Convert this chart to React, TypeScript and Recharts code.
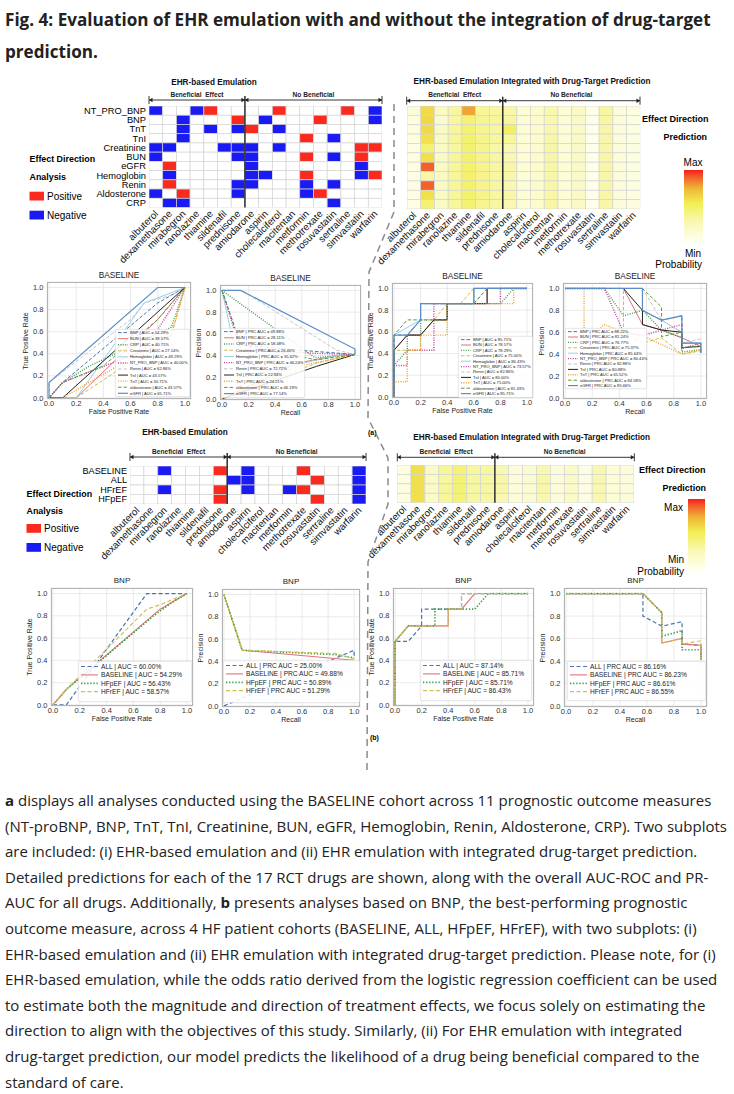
import React from "react"
import { ScatterChart, Scatter, LineChart, Line, XAxis, YAxis, CartesianGrid } from "recharts"

const FONT = "'Liberation Sans', Arial, Helvetica, sans-serif"
const TEXT_FONT = "'Open Sans', 'Noto Sans', sans-serif"

const drugs = [
  "albuterol", "dexamethasone", "mirabegron", "ranolazine", "thiamine", "sildenafil", "prednisone",
  "amiodarone", "aspirin", "cholecalciferol", "macitentan", "metformin", "methotrexate",
  "rosuvastatin", "sertraline", "simvastatin", "warfarin",
]
const beneficialCount = 7
const outcomes = ["NT_PRO_BNP", "BNP", "TnT", "TnI", "Creatinine", "BUN", "eGFR", "Hemoglobin", "Renin", "Aldosterone", "CRP"]
const cohorts = ["BASELINE", "ALL", "HFrEF", "HFpEF"]
const unitTicks = [0, 0.2, 0.4, 0.6, 0.8, 1.0]

// 1 = positive, -1 = negative, 0 = nothing found
const effectA = [
  [-1, 0, 0, -1, 1, 0, 0, 0, 0, 1, 0, 0, 0, 0, 1, 0, -1],
  [0, 0, -1, 0, 0, 0, 1, 0, -1, 0, 0, 0, 1, 0, 0, 0, -1],
  [0, 0, -1, 0, -1, 0, -1, 1, 0, -1, 0, 0, 0, 0, 0, 0, 0],
  [0, 0, -1, 0, 0, 0, 0, 0, 0, 0, 0, 1, 0, -1, 0, 0, 0],
  [-1, -1, 0, 0, 0, -1, -1, -1, 0, -1, 0, 0, 0, 0, 0, 1, 1],
  [-1, 0, 0, 0, 0, 0, -1, -1, 0, 0, 0, 1, 0, -1, 0, 1, 0],
  [0, 1, 0, 0, 0, 0, 0, -1, 0, 0, 0, 0, 0, 0, 0, -1, 0],
  [0, -1, 0, 0, 0, 0, 0, -1, -1, 0, 0, 1, 0, 0, 0, -1, 1],
  [0, 1, 0, 0, 0, 0, -1, -1, 0, 0, 0, -1, 0, -1, 0, 0, 0],
  [-1, 0, 1, 0, 0, 0, -1, 0, 0, 0, 0, -1, 1, 0, 0, 0, 0],
  [0, -1, -1, 0, 0, 0, 0, 0, 0, 0, 0, 0, 0, -1, 0, 0, 0],
]
const effectB = [
  [0, 0, -1, 0, 0, 0, 1, 0, -1, 0, 0, 0, 1, 0, 0, 0, -1],
  [0, 0, 0, 0, 0, 0, 0, -1, -1, 0, 0, 0, 0, 1, 0, 0, -1],
  [0, 0, -1, 0, 0, 0, 1, 0, -1, 0, 0, -1, 1, 0, 0, 0, -1],
  [0, 0, 0, 0, 0, 0, 1, 0, 0, 0, 0, 0, 0, 1, 0, 0, -1],
]

// predicted probability of benefit (0 = min, 1 = max of the colour bar)
const probA = [
  [0.12, 0.62, 0.22, 0.34, 0.78, 0.36, 0.34, 0.32, 0.14, 0.18, 0.3, 0.14, 0.2, 0.05, 0.34, 0.12, 0.1],
  [0.1, 0.63, 0.16, 0.34, 0.45, 0.38, 0.36, 0.34, 0.14, 0.18, 0.3, 0.14, 0.2, 0.05, 0.34, 0.12, 0.1],
  [0.1, 0.62, 0.22, 0.36, 0.46, 0.38, 0.34, 0.5, 0.14, 0.18, 0.3, 0.14, 0.2, 0.05, 0.32, 0.12, 0.1],
  [0.1, 0.6, 0.22, 0.36, 0.47, 0.4, 0.34, 0.36, 0.14, 0.18, 0.32, 0.14, 0.2, 0.05, 0.32, 0.12, 0.1],
  [0.08, 0.46, 0.22, 0.34, 0.47, 0.4, 0.32, 0.3, 0.14, 0.18, 0.32, 0.14, 0.2, 0.05, 0.32, 0.12, 0.1],
  [0.08, 0.6, 0.22, 0.36, 0.47, 0.4, 0.34, 0.3, 0.14, 0.18, 0.32, 0.14, 0.2, 0.05, 0.32, 0.12, 0.1],
  [0.08, 0.9, 0.22, 0.36, 0.48, 0.4, 0.34, 0.32, 0.14, 0.18, 0.32, 0.14, 0.2, 0.05, 0.32, 0.12, 0.1],
  [0.08, 0.32, 0.22, 0.36, 0.48, 0.4, 0.34, 0.32, 0.14, 0.18, 0.32, 0.14, 0.2, 0.05, 0.32, 0.12, 0.1],
  [0.08, 0.9, 0.22, 0.36, 0.48, 0.4, 0.34, 0.3, 0.14, 0.18, 0.32, 0.14, 0.2, 0.05, 0.32, 0.12, 0.1],
  [0.08, 0.6, 0.22, 0.36, 0.48, 0.4, 0.34, 0.32, 0.14, 0.18, 0.32, 0.14, 0.2, 0.05, 0.32, 0.12, 0.1],
  [0.08, 0.46, 0.2, 0.36, 0.46, 0.38, 0.34, 0.3, 0.14, 0.18, 0.32, 0.14, 0.2, 0.05, 0.32, 0.12, 0.1],
]
const probB = [
  [0.1, 0.6, 0.2, 0.36, 0.44, 0.34, 0.34, 0.3, 0.12, 0.16, 0.3, 0.12, 0.2, 0.08, 0.3, 0.14, 0.12],
  [0.1, 0.6, 0.2, 0.34, 0.46, 0.34, 0.34, 0.32, 0.12, 0.16, 0.32, 0.12, 0.2, 0.08, 0.3, 0.14, 0.12],
  [0.1, 0.6, 0.2, 0.36, 0.46, 0.34, 0.34, 0.32, 0.12, 0.16, 0.32, 0.12, 0.2, 0.08, 0.3, 0.14, 0.12],
  [0.1, 0.6, 0.2, 0.36, 0.46, 0.34, 0.34, 0.3, 0.12, 0.16, 0.3, 0.12, 0.2, 0.08, 0.3, 0.14, 0.12],
]

// legend order of the curve panels
const outcomeKeys = ["BNP", "BUN", "CRP", "Creatinine", "Hemoglobin", "NT_PRO_BNP", "Renin", "TnI", "TnT", "aldosterone", "eGFR"]
const cohortKeys = ["ALL", "BASELINE", "HFpEF", "HFrEF"]

const rocAucA = ["54.29", "38.57", "40.71", "27.14", "49.29", "40.00", "62.86", "43.57", "30.71", "43.57", "65.71"]
const prcAucA = ["49.88", "28.11", "58.48", "26.40", "35.62", "46.24", "72.72", "22.94", "24.21", "46.19", "77.14"]
const rocAucA2 = ["85.71", "78.57", "78.29", "75.00", "86.43", "73.57", "82.86", "80.00", "75.00", "81.43", "85.71"]
const prcAucA2 = ["88.22", "81.24", "76.77", "75.37", "85.64", "80.44", "82.88", "80.88", "65.52", "84.58", "85.66"]
const rocAucB = ["60.00", "54.29", "56.43", "58.57"]
const prcAucB = ["25.00", "49.88", "50.89", "51.29"]
const rocAucB2 = ["87.14", "85.71", "85.71", "86.43"]
const prcAucB2 = ["86.16", "86.23", "86.61", "86.55"]

// curves as [x, y] points, same order as the legend keys
const rocA = [
  [[0, 0], [0.1, 0.14], [0.8, 0.86], [1, 1]],
  [[0, 0], [0.2, 0], [0.8, 0.71], [1, 1]],
  [[0, 0], [0.1, 0.14], [0.3, 0.29], [0.9, 0.64], [1, 1]],
  [[0, 0], [0.2, 0], [0.9, 0.57], [1, 1]],
  [[0, 0], [0.2, 0], [0.7, 0.86], [1, 1]],
  [[0, 0], [0.1, 0.14], [0.7, 0.43], [1, 1]],
  [[0, 0], [0, 0.14], [0.6, 0.71], [0.7, 0.86], [0.9, 0.93], [1, 1]],
  [[0, 0], [0.1, 0], [1, 1]],
  [[0, 0], [0.1, 0], [0.9, 0.57], [1, 1]],
  [[0, 0], [0.1, 0.14], [0.4, 0.29], [0.8, 0.71], [1, 1]],
  [[0, 0], [0, 0.14], [0.8, 1], [1, 1]],
]
const prcA = [
  [[0, 1], [0.14, 0.5], [0.57, 0.45], [1, 0.41]],
  [[0, 0], [0.57, 0.33], [0.86, 0.4], [1, 0.41]],
  [[0, 1], [0.7, 0.38], [1, 0.41]],
  [[0, 0], [0.71, 0.33], [1, 0.41]],
  [[0, 1], [0.14, 0.2], [0.86, 0.4], [1, 0.41]],
  [[0, 1], [0.14, 0.45], [0.71, 0.42], [1, 0.41]],
  [[0, 1], [0.15, 1], [0.86, 0.45], [1, 0.41]],
  [[0, 0], [0.71, 0.3], [1, 0.41]],
  [[0, 0], [0.57, 0.3], [1, 0.41]],
  [[0, 1], [0.14, 0.5], [0.71, 0.36], [1, 0.41]],
  [[0, 1], [0.14, 1], [1, 0.46], [1, 0.41]],
]
const rocA2 = [
  [[0, 0], [0, 0.57], [0.1, 0.57], [0.2, 0.71], [0.2, 0.86], [0.6, 0.86], [0.6, 1], [1, 1]],
  [[0, 0], [0, 0.43], [0.1, 0.57], [0.2, 0.57], [0.3, 0.71], [0.4, 0.71], [0.4, 0.86], [0.7, 0.86], [0.7, 1], [1, 1]],
  [[0, 0], [0, 0.29], [0.1, 0.43], [0.1, 0.57], [0.2, 0.57], [0.2, 0.71], [0.4, 0.71], [0.4, 0.86], [0.8, 0.86], [0.9, 1], [1, 1]],
  [[0, 0], [0, 0.43], [0.2, 0.43], [0.2, 0.57], [0.3, 0.71], [0.4, 0.86], [0.5, 0.86], [0.6, 1], [1, 1]],
  [[0, 0], [0, 0.57], [0.2, 0.71], [0.2, 0.86], [0.6, 0.86], [0.6, 1], [1, 1]],
  [[0, 0], [0, 0.29], [0.1, 0.29], [0.1, 0.43], [0.3, 0.43], [0.3, 0.86], [0.8, 0.86], [0.8, 1], [1, 1]],
  [[0, 0], [0, 0.57], [0.1, 0.57], [0.2, 0.71], [0.2, 0.86], [0.6, 0.86], [0.7, 1], [1, 1]],
  [[0, 0], [0, 0.43], [0.1, 0.57], [0.2, 0.57], [0.3, 0.71], [0.4, 0.71], [0.4, 0.86], [0.7, 0.86], [0.7, 1], [1, 1]],
  [[0, 0], [0, 0.14], [0.1, 0.14], [0.1, 0.43], [0.2, 0.43], [0.2, 0.57], [0.4, 0.57], [0.4, 0.86], [0.9, 0.86], [0.9, 1], [1, 1]],
  [[0, 0], [0, 0.57], [0.1, 0.71], [0.4, 0.71], [0.4, 0.86], [0.6, 0.86], [0.7, 1], [1, 1]],
  [[0, 0], [0, 0.57], [0.1, 0.57], [0.2, 0.71], [0.2, 0.86], [0.6, 0.86], [0.6, 1], [1, 1]],
]
const prcA2 = [
  [[0, 1], [0.57, 1], [0.57, 0.8], [0.71, 0.71], [0.86, 0.75], [0.86, 0.5], [1, 0.5], [1, 0.41]],
  [[0, 1], [0.43, 1], [0.57, 0.67], [0.71, 0.62], [0.86, 0.55], [1, 0.47]],
  [[0, 1], [0.29, 1], [0.43, 0.75], [0.57, 0.8], [0.71, 0.62], [0.86, 0.55], [0.86, 0.42], [1, 0.44]],
  [[0, 1], [0.43, 1], [0.43, 0.6], [0.57, 0.5], [0.71, 0.55], [0.86, 0.4], [1, 0.43]],
  [[0, 1], [0.57, 1], [0.57, 0.8], [0.71, 0.71], [0.86, 0.6], [0.86, 0.5], [1, 0.5]],
  [[0, 1], [0.29, 1], [0.43, 0.6], [0.57, 0.57], [0.71, 0.62], [0.86, 0.67], [0.86, 0.45], [1, 0.5]],
  [[0, 1], [0.57, 1], [0.71, 0.71], [0.86, 0.6], [0.86, 0.5], [1, 0.54]],
  [[0, 1], [0.43, 1], [0.57, 0.8], [0.57, 0.67], [0.71, 0.62], [0.86, 0.6], [0.86, 0.46], [1, 0.47]],
  [[0, 1], [0.14, 1], [0.14, 0.5], [0.29, 0.67], [0.43, 0.6], [0.57, 0.57], [0.86, 0.4], [1, 0.44]],
  [[0, 1], [0.57, 1], [0.71, 0.83], [0.71, 0.56], [0.86, 0.6], [0.86, 0.46], [1, 0.47], [1, 0.41]],
  [[0, 1], [0.57, 1], [0.57, 0.8], [0.71, 0.71], [0.86, 0.75], [0.86, 0.5], [1, 0.5], [1, 0.41]],
]
const rocB = [
  [[0, 0], [0.1, 0], [0.7, 1], [1, 1]],
  [[0, 0], [0.1, 0.14], [0.8, 0.86], [1, 1]],
  [[0, 0], [0.1, 0.14], [0.75, 0.8], [0.9, 0.93], [1, 1]],
  [[0, 0], [0.1, 0.14], [0.7, 0.86], [0.8, 0.9], [1, 1]],
]
const prcB = [
  [[0, 0], [1, 0.5], [1, 0.43]],
  [[0, 1], [0.14, 0.5], [1, 0.41]],
  [[0, 1], [0.14, 0.5], [0.86, 0.46], [1, 0.43]],
  [[0, 1], [0.14, 0.5], [0.86, 0.47], [1, 0.42]],
]
const rocB2 = [
  [[0, 0], [0, 0.57], [0.1, 0.57], [0.2, 0.71], [0.2, 0.86], [0.5, 0.86], [0.5, 1], [1, 1]],
  [[0, 0], [0, 0.57], [0.1, 0.71], [0.4, 0.71], [0.4, 0.86], [0.5, 0.86], [0.6, 1], [1, 1]],
  [[0, 0], [0, 0.57], [0.1, 0.71], [0.3, 0.71], [0.3, 0.86], [0.6, 0.86], [0.7, 1], [1, 1]],
  [[0, 0], [0, 0.57], [0.1, 0.71], [0.4, 0.71], [0.4, 0.86], [0.5, 0.86], [0.5, 1], [1, 1]],
]
const prcB2 = [
  [[0, 1], [0.57, 1], [0.57, 0.8], [0.71, 0.71], [0.86, 0.75], [0.86, 0.55], [1, 0.54], [1, 0.41]],
  [[0, 1], [0.57, 1], [0.71, 0.83], [0.71, 0.56], [0.86, 0.6], [0.86, 0.55], [1, 0.54], [1, 0.42]],
  [[0, 1], [0.57, 1], [0.71, 0.83], [0.71, 0.62], [0.86, 0.67], [0.86, 0.5], [1, 0.5], [1, 0.41]],
  [[0, 1], [0.57, 1], [0.71, 0.83], [0.71, 0.56], [0.86, 0.6], [0.86, 0.55], [1, 0.58], [1, 0.41]],
]

const captionLines = [
  "**a** displays all analyses conducted using the BASELINE cohort across 11 prognostic outcome measures",
  "(NT-proBNP, BNP, TnT, TnI, Creatinine, BUN, eGFR, Hemoglobin, Renin, Aldosterone, CRP). Two subplots",
  "are included: (i) EHR-based emulation and (ii) EHR emulation with integrated drug-target prediction.",
  "Detailed predictions for each of the 17 RCT drugs are shown, along with the overall AUC-ROC and PR-",
  "AUC for all drugs. Additionally, **b** presents analyses based on BNP, the best-performing prognostic",
  "outcome measure, across 4 HF patient cohorts (BASELINE, ALL, HFpEF, HFrEF), with two subplots: (i)",
  "EHR-based emulation and (ii) EHR emulation with integrated drug-target prediction. Please note, for (i)",
  "EHR-based emulation, while the odds ratio derived from the logistic regression coefficient can be used",
  "to estimate both the magnitude and direction of treatment effects, we focus solely on estimating the",
  "direction to align with the objectives of this study. Similarly, (ii) For EHR emulation with integrated",
  "drug-target prediction, our model predicts the likelihood of a drug being beneficial compared to the",
  "standard of care.",
]

type LineStyle = { color: string; dash?: string; w: number }
const outcomeStyle: Record<string, LineStyle> = {
  BNP: { color: "#4c72b0", dash: "3.5 2", w: 1 },
  BUN: { color: "#e0707c", w: 1 },
  CRP: { color: "#3f9e4a", dash: "1 1.4", w: 1.4 },
  Creatinine: { color: "#d4b84a", dash: "3.5 2", w: 1 },
  Hemoglobin: { color: "#8fd3ea", w: 1 },
  NT_PRO_BNP: { color: "#c0399a", dash: "1 1.4", w: 1.4 },
  Renin: { color: "#c6c6c6", dash: "3.5 2", w: 1 },
  TnI: { color: "#222222", w: 1 },
  TnT: { color: "#f0a030", dash: "1 1.4", w: 1.4 },
  aldosterone: { color: "#5f9a3c", dash: "3.5 2", w: 1 },
  eGFR: { color: "#5b8ec8", w: 1.2 },
}
const cohortStyle: Record<string, LineStyle> = {
  ALL: { color: "#4c72b0", dash: "4 2.5", w: 1.2 },
  BASELINE: { color: "#e0707c", w: 1.1 },
  HFpEF: { color: "#3f9e4a", dash: "1.3 1.8", w: 1.7 },
  HFrEF: { color: "#cfc24a", dash: "4 2.5", w: 1.2 },
}

const RED = "#fb2a1f"
const BLUE = "#1a1af2"
const effectColor = (v: number) => (v > 0 ? RED : v < 0 ? BLUE : "#ffffff")

const probStops: [number, number[]][] = [
  [0, [255, 255, 246]],
  [0.3, [248, 248, 176]],
  [0.55, [242, 238, 80]],
  [0.75, [240, 180, 54]],
  [0.9, [240, 98, 42]],
  [1, [250, 28, 28]],
]
function probColor(v: number) {
  for (let i = 1; i < probStops.length; i++) {
    const [t0, c0] = probStops[i - 1]
    const [t1, c1] = probStops[i]
    if (v <= t1) {
      const f = (v - t0) / (t1 - t0)
      return `rgb(${c0.map((c, k) => Math.round(c + (c1[k] - c) * f)).join(",")})`
    }
  }
  return "rgb(250,28,28)"
}
const barGradient = `linear-gradient(to top, ${probStops
  .map(([t, c]) => `rgb(${c.join(",")}) ${t * 100}%`)
  .join(", ")})`

function DrugTick(props: any) {
  const { x, y, payload, font } = props
  const tx = x + 3
  const ty = y + 7
  return (
    <text x={tx} y={ty} transform={`rotate(-45 ${tx} ${ty})`} textAnchor="end" fontSize={font} fontFamily={FONT} fill="#111">
      {drugs[payload.value]}
    </text>
  )
}

function Heatmap(props: any) {
  const { gx, gy, gw, gh, rows, values, color, rowLabels, rowFont, colFont } = props
  const yW = rowLabels ? 100 : 0
  const below = 80
  const cw = gw / drugs.length
  const ch = gh / rows.length
  const cells = values.flatMap((row: number[], r: number) => row.map((v, c) => ({ c, r, v })))
  return (
    <div style={{ position: "absolute", left: gx - yW, top: gy }}>
      <ScatterChart width={yW + gw + 4} height={gh + below} margin={{ top: 0, right: 4, bottom: 0, left: 0 }}>
        <XAxis
          type="number"
          dataKey="c"
          domain={[-0.5, drugs.length - 0.5]}
          ticks={drugs.map((_, i) => i)}
          interval={0}
          allowDataOverflow
          height={below}
          axisLine={false}
          tickLine={false}
          tickSize={0}
          tickMargin={0}
          tick={(p: any) => <DrugTick {...p} font={colFont} />}
        />
        <YAxis
          type="number"
          dataKey="r"
          reversed
          domain={[-0.5, rows.length - 0.5]}
          ticks={rows.map((_: string, i: number) => i)}
          interval={0}
          allowDataOverflow
          width={yW}
          hide={!rowLabels}
          axisLine={false}
          tickLine={false}
          tickSize={0}
          tickMargin={3}
          tickFormatter={(i: number) => rows[i]}
          tick={{ fontSize: rowFont, fill: "#000", fontFamily: FONT }}
        />
        <Scatter
          data={cells}
          isAnimationActive={false}
          shape={(p: any) => (
            <rect x={p.cx - cw / 2} y={p.cy - ch / 2} width={cw} height={ch} fill={color(p.payload.v)} stroke="#d4d4d4" strokeWidth={0.7} />
          )}
        />
      </ScatterChart>
    </div>
  )
}

function Bracket({ gx, gw, by, sepBottom }: any) {
  const cw = gw / drugs.length
  const mid = gx + cw * beneficialCount
  const end = gx + gw
  const a = 2.2
  return (
    <g stroke="#222" strokeWidth={0.9} fill="#222">
      <line x1={gx} x2={end} y1={by} y2={by} />
      <line x1={gx} x2={gx} y1={by - 4} y2={by + 4} />
      <line x1={end} x2={end} y1={by - 4} y2={by + 4} />
      <path d={`M${gx} ${by} l${a * 1.6} ${-a} v${2 * a}z M${end} ${by} l${-a * 1.6} ${-a} v${2 * a}z`} stroke="none" />
      <path d={`M${mid} ${by} l${-a * 1.6} ${-a} v${2 * a}z M${mid} ${by} l${a * 1.6} ${-a} v${2 * a}z`} stroke="none" />
      <line x1={mid} x2={mid} y1={by - 4} y2={sepBottom} strokeWidth={1.4} />
    </g>
  )
}

function HeatDecor({ gx, gw, by, sepBottom, labelY, title, tx, ty }: any) {
  const cw = gw / drugs.length
  const mid = gx + cw * beneficialCount
  return (
    <g fontFamily={FONT} fontWeight="bold">
      <text x={tx} y={ty} fontSize={8.2} textAnchor="middle" fill="#111">{title}</text>
      <text x={(gx + mid) / 2} y={labelY} fontSize={6.6} textAnchor="middle" fill="#222">{"Beneficial\u00a0 Effect"}</text>
      <text x={(mid + gx + gw) / 2} y={labelY} fontSize={6.6} textAnchor="middle" fill="#222">No Beneficial</text>
      <Bracket gx={gx} gw={gw} by={by} sepBottom={sepBottom} />
    </g>
  )
}

function EffectKey({ x, y1, y2, sq }: any) {
  // y1: baseline of "Effect Direction", y2: baseline of "Analysis", sq: top of the red square
  return (
    <g fontFamily={FONT}>
      <text x={x} y={y1} fontSize={8.9} fontWeight="bold">Effect Direction</text>
      <text x={x} y={y2} fontSize={8.9} fontWeight="bold">Analysis</text>
      <rect x={x} y={sq} width={14.5} height={8.8} fill={RED} />
      <text x={x + 17.5} y={sq + 8} fontSize={10}>Positive</text>
      <rect x={x} y={sq + 19} width={14.5} height={8.8} fill={BLUE} />
      <text x={x + 17.5} y={sq + 27} fontSize={10}>Negative</text>
    </g>
  )
}

function LegendBox({ box, names, styles, values, metric, font, row, line, textX, pad }: any) {
  const [x, y, w, h] = box
  const k = 3
  return (
    <svg style={{ position: "absolute", left: x, top: y, overflow: "visible" }} width={w} height={h}>
      <rect x={0.3} y={0.3} width={w - 0.6} height={h - 0.6} rx={1.5} fill="rgba(255,255,255,0.85)" stroke="#d2d2d2" strokeWidth={0.6} />
      {names.map((n: string, i: number) => {
        const cy = pad + row * i
        const s = styles[n]
        return (
          <g key={n}>
            <line x1={3} x2={3 + line} y1={cy} y2={cy} stroke={s.color} strokeWidth={s.w} strokeDasharray={s.dash} />
            <g transform={`translate(${textX},${cy}) scale(${1 / k})`}>
              <text x={0} y={0} dy="0.35em" fontSize={font * k} fontFamily={FONT} fill="#222">
                {`${n} | ${metric} = ${values[i]}%`}
              </text>
            </g>
          </g>
        )
      })}
    </svg>
  )
}

const fmt = (v: number) => v.toFixed(1)

function CurvePanel(props: any) {
  const { px, py, pw, ph, title, xLabel, yLabel, names, curves, styles, aucs, metric, leg, titleFont } = props
  const ml = 30
  const mb = 14
  const mt = 2
  const tickStyle = { fontSize: 7.5, fill: "#333", fontFamily: FONT }
  return (
    <>
      <div style={{ position: "absolute", left: px - ml, top: py - mt }}>
        <LineChart width={pw + ml + 2} height={ph + mt + mb} margin={{ top: mt, right: 2, bottom: 0, left: 0 }}>
          <CartesianGrid stroke="#e4e4e4" strokeWidth={0.8} />
          <XAxis
            type="number"
            dataKey="x"
            domain={[-0.015, 1.045]}
            ticks={unitTicks}
            interval={0}
            allowDataOverflow
            tickFormatter={fmt}
            height={mb}
            tickSize={0}
            tickMargin={1.5}
            axisLine={false}
            tick={tickStyle}
          />
          <YAxis
            type="number"
            dataKey="y"
            domain={[-0.01, 1.05]}
            ticks={unitTicks}
            interval={0}
            allowDataOverflow
            tickFormatter={fmt}
            width={ml}
            tickSize={0}
            tickMargin={3.5}
            axisLine={false}
            tick={tickStyle}
          />
          {curves.map((pts: number[][], i: number) => {
            const s = styles[names[i]]
            return (
              <Line
                key={names[i]}
                data={pts.map(([x, y]) => ({ x, y }))}
                dataKey="y"
                type="linear"
                stroke={s.color}
                strokeWidth={s.w}
                strokeDasharray={s.dash}
                dot={false}
                activeDot={false}
                isAnimationActive={false}
              />
            )
          })}
        </LineChart>
      </div>
      <div style={{ position: "absolute", left: px, top: py, width: pw, height: ph, border: "1px solid #b4b4b4", boxSizing: "border-box", pointerEvents: "none" }} />
      <div style={{ position: "absolute", left: px, width: pw, top: py - 13, textAlign: "center", fontFamily: FONT, fontSize: titleFont, color: "#222", lineHeight: "12px" }}>{title}</div>
      <div style={{ position: "absolute", left: px, width: pw, top: py + ph + 8, textAlign: "center", fontFamily: FONT, fontSize: 7, color: "#222", lineHeight: "9px" }}>{xLabel}</div>
      <div
        style={{
          position: "absolute",
          left: px - 21 - 60,
          top: py + ph / 2 - 5,
          width: 120,
          textAlign: "center",
          fontFamily: FONT,
          fontSize: 7,
          color: "#222",
          lineHeight: "10px",
          transform: "rotate(-90deg)",
        }}
      >
        {yLabel}
      </div>
      <LegendBox {...leg} names={names} styles={styles} values={aucs} metric={metric} />
    </>
  )
}

const legA = (box: number[], row: number) => ({ box, row, pad: 3.6, font: 4.1, line: 10, textX: 15 })
const legB = (box: number[]) => ({ box, row: 8.4, pad: 5.5, font: 6.6, line: 17, textX: 23 })

function Caption() {
  return (
    <>
      {captionLines.map((ln, i) => (
        <div
          key={i}
          style={{ position: "absolute", left: 5, top: 788 + i * 25.6, whiteSpace: "nowrap", fontFamily: TEXT_FONT, fontSize: 15, lineHeight: "25.6px", color: "#222" }}
        >
          {ln.split("**").map((seg, j) => (j % 2 ? <b key={j}>{seg}</b> : <span key={j}>{seg}</span>))}
        </div>
      ))}
    </>
  )
}

export default function App() {
  return (
    <div style={{ position: "absolute", left: 0, top: 0, width: 734, height: 1094, background: "#fff", overflow: "hidden" }}>
      <style>{`.recharts-surface{overflow:visible}`}</style>
      <div style={{ position: "absolute", left: 5, top: 4, width: 728, fontFamily: TEXT_FONT, fontWeight: 700, fontSize: 17.1, lineHeight: "32px", color: "#222" }}>
        <div style={{ whiteSpace: "nowrap" }}>Fig. 4: Evaluation of EHR emulation with and without the integration of drug-target</div>
        <div>prediction.</div>
      </div>

      <Heatmap gx={149} gy={106} gw={233} gh={101.5} rows={outcomes} values={effectA} color={effectColor} rowLabels rowFont={9.3} colFont={9.8} />
      <Heatmap gx={406.7} gy={106} gw={233.3} gh={103} rows={outcomes} values={probA} color={probColor} rowLabels={false} colFont={9.8} />
      <Heatmap gx={130} gy={466} gw={236} gh={38} rows={cohorts} values={effectB} color={effectColor} rowLabels rowFont={9.1} colFont={9.8} />
      <Heatmap gx={397.3} gy={465} gw={237} gh={37.7} rows={cohorts} values={probB} color={probColor} rowLabels={false} colFont={9.8} />

      <CurvePanel px={47} py={282} pw={144} ph={117} title="BASELINE" titleFont={8.3} xLabel="False Positive Rate" yLabel="True Positive Rate"
        names={outcomeKeys} curves={rocA} styles={outcomeStyle} aucs={rocAucA} metric="AUC" leg={legA([115, 329, 75, 68], 6.07)} />
      <CurvePanel px={220} py={285} pw={141} ph={115} title="BASELINE" titleFont={8.3} xLabel="Recall" yLabel="Precision"
        names={outcomeKeys} curves={prcA} styles={outcomeStyle} aucs={prcAucA} metric="PRC AUC" leg={legA([221, 328, 84, 70], 6.2)} />
      <CurvePanel px={392} py={283} pw={141} ph={115} title="BASELINE" titleFont={8.3} xLabel="False Positive Rate" yLabel="True Positive Rate"
        names={outcomeKeys} curves={rocA2} styles={outcomeStyle} aucs={rocAucA2} metric="AUC" leg={legA([458, 336, 75, 62], 5.4)} />
      <CurvePanel px={563} py={283} pw={144} ph={116} title="BASELINE" titleFont={8.3} xLabel="Recall" yLabel="Precision"
        names={outcomeKeys} curves={prcA2} styles={outcomeStyle} aucs={prcAucA2} metric="PRC AUC" leg={legA([565, 328, 82, 61], 5.4)} />

      <CurvePanel px={51} py={588} pw={142} ph={118} title="BNP" titleFont={8} xLabel="False Positive Rate" yLabel="True Positive Rate"
        names={cohortKeys} curves={rocB} styles={cohortStyle} aucs={rocAucB} metric="AUC" leg={legB([78, 661, 114, 41])} />
      <CurvePanel px={222} py={589} pw={138} ph={118} title="BNP" titleFont={8} xLabel="Recall" yLabel="Precision"
        names={cohortKeys} curves={prcB} styles={cohortStyle} aucs={prcAucB} metric="PRC AUC" leg={legB([223, 660, 137, 43])} />
      <CurvePanel px={393} py={588} pw={141} ph={118} title="BNP" titleFont={8} xLabel="False Positive Rate" yLabel="True Positive Rate"
        names={cohortKeys} curves={rocB2} styles={cohortStyle} aucs={rocAucB2} metric="AUC" leg={legB([420, 660, 112, 41])} />
      <CurvePanel px={564} py={588} pw={143} ph={119} title="BNP" titleFont={8} xLabel="Recall" yLabel="Precision"
        names={cohortKeys} curves={prcB2} styles={cohortStyle} aucs={prcAucB2} metric="PRC AUC" leg={legB([567, 661, 139, 40])} />

      <svg width={734} height={790} style={{ position: "absolute", left: 0, top: 0, pointerEvents: "none", overflow: "visible" }}>
        <HeatDecor gx={149} gw={233} by={100} sepBottom={207.5} labelY={96.5} title="EHR-based Emulation" tx={214} ty={85} />
        <HeatDecor gx={406.7} gw={233.3} by={100.7} sepBottom={209} labelY={97} title="EHR-based Emulation Integrated with Drug-Target Prediction" tx={532} ty={84} />
        <HeatDecor gx={130} gw={236} by={457} sepBottom={504} labelY={453.5} title="EHR-based Emulation" tx={185} ty={435} />
        <HeatDecor gx={397.3} gw={237} by={457.3} sepBottom={502.7} labelY={454} title="EHR-based Emulation Integrated with Drug-Target Prediction" tx={531.7} ty={439.5} />

        <EffectKey x={29.5} y1={162} y2={179.5} sq={191.7} />
        <EffectKey x={26.5} y1={497} y2={514} sq={524} />

        <g fontFamily={FONT}>
          <text x={642} y={122} fontSize={9} fontWeight="bold">Effect Direction</text>
          <text x={707} y={140} fontSize={8.9} fontWeight="bold" textAnchor="end">Prediction</text>
          <text x={693} y={165.5} fontSize={10} textAnchor="middle">Max</text>
          <text x={693} y={256.5} fontSize={10} textAnchor="middle">Min</text>
          <text x={702} y={268} fontSize={10} textAnchor="end">Probability</text>

          <text x={639} y={473} fontSize={9} fontWeight="bold">Effect Direction</text>
          <text x={706} y={491} fontSize={8.9} fontWeight="bold" textAnchor="end">Prediction</text>
          <text x={683} y={510.5} fontSize={10} textAnchor="end">Max</text>
          <text x={684} y={562.5} fontSize={10} textAnchor="end">Min</text>
          <text x={684} y={575} fontSize={10} textAnchor="end">Probability</text>

          <text x={368} y={434.5} fontSize={7} fontWeight="bold">(a)</text>
          <text x={370} y={740} fontSize={7} fontWeight="bold">(b)</text>
        </g>

        <path d="M394 104 L394 212 L369 272 L368 418 L388 458 L388 504 L368 562 L367 772" fill="none" stroke="#8a8a8a" strokeWidth={1.5} strokeDasharray="7 5" />
      </svg>

      <div style={{ position: "absolute", left: 684, top: 170, width: 19, height: 73, background: barGradient }} />
      <div style={{ position: "absolute", left: 688, top: 499, width: 17, height: 73, background: barGradient }} />

      <Caption />
    </div>
  )
}
